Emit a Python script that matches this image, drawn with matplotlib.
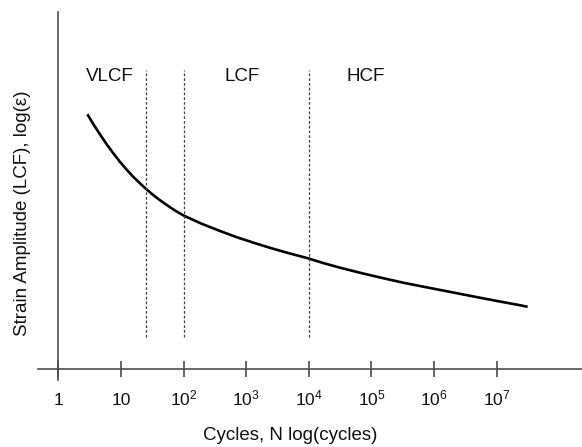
import numpy as np
import matplotlib
matplotlib.use('Agg')
import matplotlib.pyplot as plt
from matplotlib.ticker import NullLocator

plt.rcParams['font.family'] = ['Liberation Sans', 'DejaVu Sans']
plt.rcParams['mathtext.fontset'] = 'custom'
plt.rcParams['mathtext.rm'] = 'Liberation Sans'
plt.rcParams['mathtext.it'] = 'Liberation Sans:italic'

# ---- data ----
log_cycles = [0.465, 0.568, 0.668, 0.775, 0.881, 0.986, 1.091, 1.19, 1.292,
              1.393, 1.494, 1.597, 1.697, 1.85, 2.0, 2.28, 2.562, 2.84,
              3.122, 3.40, 3.681, 3.987, 4.227, 4.547, 4.867, 5.188, 5.508,
              5.829, 6.141, 6.444, 6.747, 7.05, 7.353, 7.494]
strain = [2.547, 2.44, 2.344, 2.245, 2.155, 2.07, 1.994, 1.926, 1.864,
          1.805, 1.751, 1.70, 1.655, 1.59, 1.535, 1.455, 1.385, 1.32,
          1.262, 1.208, 1.158, 1.107, 1.06, 1.005, 0.955, 0.908, 0.863,
          0.823, 0.785, 0.748, 0.711, 0.675, 0.64, 0.622]
boundaries = [25, 100, 1e4]
region_names = ['VLCF', 'LCF', 'HCF']
region_log_x = [0.83, 2.93, 4.91]
tick_values = [1, 10, 1e2, 1e3, 1e4, 1e5, 1e6, 1e7]
tick_labels = ['1', '10', r'$\mathregular{10^{2}}$', r'$\mathregular{10^{3}}$',
               r'$\mathregular{10^{4}}$', r'$\mathregular{10^{5}}$',
               r'$\mathregular{10^{6}}$', r'$\mathregular{10^{7}}$']
xlabel = 'Cycles, N log(cycles)'
ylabel = 'Strain Amplitude (LCF), log(\u03b5)'

W, H = 582, 447
fig = plt.figure(figsize=(W / 100, H / 100), dpi=100)
ax = fig.add_axes([38 / W, 1 - 380 / H, 544 / W, 368 / H])

cycles = 10 ** np.array(log_cycles)
ax.plot(cycles, strain, color='black', lw=1.9, solid_capstyle='butt',
        solid_joinstyle='round')

for b in boundaries:
    ax.plot([b, b], [0.32, 2.99], color='#444444', lw=0.9,
            linestyle=(0, (2.2, 1.6)))

for name, lx in zip(region_names, region_log_x):
    ax.text(10 ** lx, 2.92, name, ha='center', va='center', fontsize=13.5,
            color='#111111')

ax.set_xscale('log')
ax.set_xlim(10 ** -0.324, 10 ** 8.362)
ax.set_ylim(-0.11, 3.57)

for s in ['top', 'right']:
    ax.spines[s].set_visible(False)
ax.spines['left'].set_position(('data', 1))
ax.spines['bottom'].set_position(('data', 0))
for s in ['left', 'bottom']:
    ax.spines[s].set_color('#4d4d4d')
    ax.spines[s].set_linewidth(1.2)

ax.set_xticks(tick_values)
ax.set_xticklabels(tick_labels)
ax.xaxis.set_minor_locator(NullLocator())
ax.set_yticks([])
ax.tick_params(axis='x', direction='inout', length=11, width=1.2,
               color='#4d4d4d', labelsize=12.5, pad=20.5, labelcolor='#111111')
plt.setp(ax.get_xticklabels(), va='baseline')

fig.text(290 / W, 1 - 440 / H, xlabel, ha='center', va='baseline',
         fontsize=13.5, color='#111111')
fig.text(23 / W, 1 - 213.5 / H, ylabel, ha='center', va='center',
         rotation=90, fontsize=13.5, color='#111111')

fig.savefig('out.png', dpi=100)
